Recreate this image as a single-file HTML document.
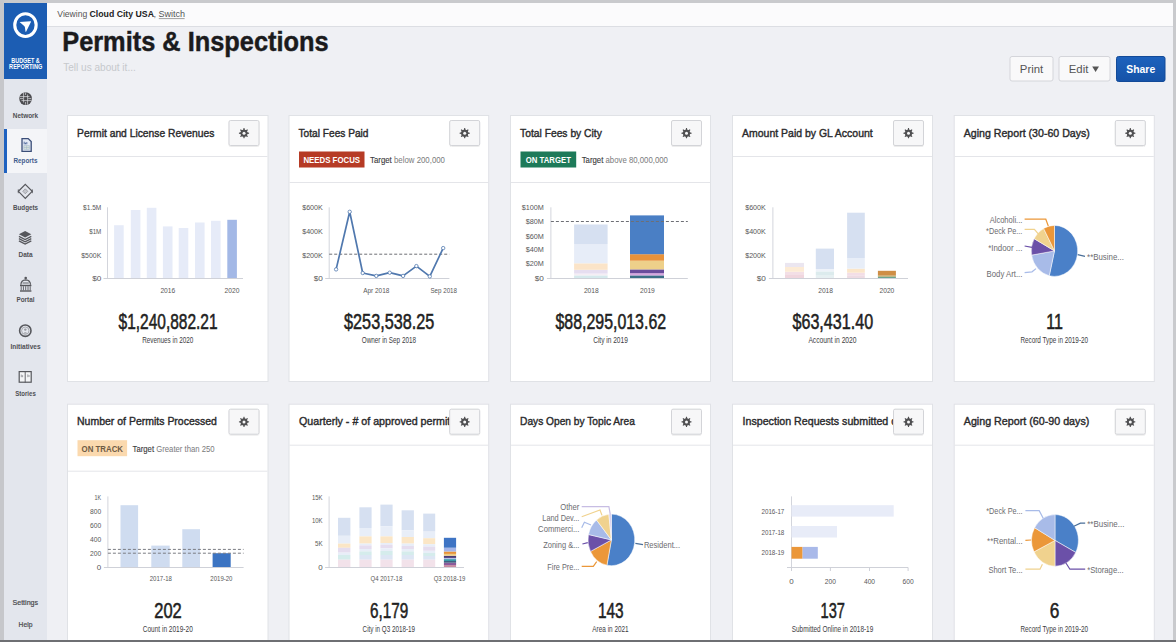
<!DOCTYPE html>
<html lang="en"><head><meta charset="utf-8"><title>Permits &amp; Inspections</title><style>html,body{margin:0;padding:0;background:#eef0f4;overflow:hidden;width:1176px;height:642px}svg text{white-space:pre}</style></head><body>
<svg width="1176" height="642" viewBox="0 0 1176 642" font-family='"Liberation Sans", Arial, sans-serif' style="display:block">
<defs><filter id="sh" x="-5%" y="-5%" width="110%" height="115%"><feDropShadow dx="0" dy="0.6" stdDeviation="0.5" flood-color="#000" flood-opacity="0.12"/></filter><linearGradient id="shg" x1="0" y1="0" x2="0" y2="1"><stop offset="0" stop-color="#1d62bd"/><stop offset="1" stop-color="#1553a8"/></linearGradient></defs>
<rect x="0.00" y="0.00" width="1176.00" height="642.00" fill="#eff0f4" />
<rect x="47.00" y="3.00" width="1129.00" height="24.00" fill="#fbfbfc" />
<line x1="47.00" y1="26.50" x2="1176.00" y2="26.50" stroke="#dcdee3" stroke-width="1" />
<rect x="4.00" y="3.00" width="43.00" height="642.00" fill="#e3e6ed" />
<rect x="4.00" y="129.00" width="43.00" height="44.00" fill="#f4f5f8" />
<rect x="4.00" y="129.00" width="3.00" height="44.00" fill="#1f62c0" />
<rect x="4.00" y="3.00" width="43.00" height="76.00" fill="#1c5db3" />
<ellipse cx="25.45" cy="25.1" rx="10.7" ry="11.4" fill="none" stroke="#fff" stroke-width="3.1"/>
<path d="M19.6,21.9 L30.6,21.2 Q31.2,21.3 30.9,21.9 L26.2,31.6 Q25.7,32.3 25.5,31.5 L24.9,27.2 Q24.6,26.2 23.6,25.4 Z" fill="#fff"/>
<text x="25.50" y="62.50" font-size="6.3" font-weight="700" fill="#fff" text-anchor="middle" textLength="28.50" lengthAdjust="spacingAndGlyphs" >BUDGET &amp;</text>
<text x="25.70" y="69.40" font-size="6.3" font-weight="700" fill="#fff" text-anchor="middle" textLength="33.20" lengthAdjust="spacingAndGlyphs" >REPORTING</text>
<text x="25.50" y="118.20" font-size="7.2" font-weight="700" fill="#4f4f53" text-anchor="middle" textLength="25.38" lengthAdjust="spacingAndGlyphs" >Network</text>
<text x="25.50" y="162.50" font-size="7.2" font-weight="700" fill="#3f5b8c" text-anchor="middle" textLength="23.88" lengthAdjust="spacingAndGlyphs" >Reports</text>
<text x="25.50" y="210.30" font-size="7.2" font-weight="700" fill="#4f4f53" text-anchor="middle" textLength="25.08" lengthAdjust="spacingAndGlyphs" >Budgets</text>
<text x="25.50" y="256.80" font-size="7.2" font-weight="700" fill="#4f4f53" text-anchor="middle" textLength="14.08" lengthAdjust="spacingAndGlyphs" >Data</text>
<text x="25.50" y="302.30" font-size="7.2" font-weight="700" fill="#4f4f53" text-anchor="middle" textLength="18.08" lengthAdjust="spacingAndGlyphs" >Portal</text>
<text x="25.50" y="349.30" font-size="7.2" font-weight="700" fill="#4f4f53" text-anchor="middle" textLength="30.08" lengthAdjust="spacingAndGlyphs" >Initiatives</text>
<text x="25.50" y="396.00" font-size="7.2" font-weight="700" fill="#4f4f53" text-anchor="middle" textLength="20.58" lengthAdjust="spacingAndGlyphs" >Stories</text>
<text x="25.30" y="604.50" font-size="7.4" font-weight="400" fill="#47474b" text-anchor="middle" textLength="25.59" lengthAdjust="spacingAndGlyphs" stroke="#47474b" stroke-width="0.2">Settings</text>
<text x="25.50" y="626.50" font-size="7.4" font-weight="400" fill="#47474b" text-anchor="middle" textLength="13.79" lengthAdjust="spacingAndGlyphs" stroke="#47474b" stroke-width="0.2">Help</text>
<circle cx="25.6" cy="98.6" r="6.4" fill="#4c4c50"/>
<g stroke="#dfe1e6" stroke-width="0.7" fill="none"><path d="M19.5,96.6 H29.5 M21.5,100.6 H31.5 M23.6,92.5 V102.5 M27.6,94.5 V104.7 M19.8,98.6 H23 M28.2,98.6 H31.4 M25.6,92.5 V95 M25.6,102 V104.7"/></g>
<path d="M22,138.6 H28.2 L31.2,141.6 V151.4 H22 Z" fill="#e3e9f4" stroke="#3a4d78" stroke-width="1.3"/>
<path d="M24.2,144.3 v-2.6 M25.5,144.3 v-1.6 M26.8,144.3 v-2.2" stroke="#4a6396" stroke-width="0.9"/>
<path d="M23.8,145.6 h5.6 v3.8 h-5.6 z M26.6,145.6 v3.8 M23.8,147.5 h5.6" fill="#d7e3dc" stroke="#9fb3c8" stroke-width="0.5"/>
<path d="M25.3,184.3 L32.2,191.3 L25.3,198.3 L18.4,191.3 Z" fill="none" stroke="#56575c" stroke-width="1.2"/>
<path d="M18.3,189.4 V193.2 M32.3,189.4 V193.2" stroke="#56575c" stroke-width="0.9"/>
<path d="M25.3,188.8 L27.8,191.3 L25.3,193.8 L22.8,191.3 Z" fill="#c4c6cc" stroke="#8d8e94" stroke-width="0.7"/>
<path d="M25.1,231 L31.3,234.2 L25.1,237.4 L18.9,234.2 Z" fill="#56575c"/>
<path d="M18.9,236.4 L25.1,239.6 L31.3,236.4 M18.9,238.6 L25.1,241.8 L31.3,238.6 M18.9,240.8 L25.1,244 L31.3,240.8" fill="none" stroke="#56575c" stroke-width="1.3"/>
<circle cx="25.7" cy="278" r="1.3" fill="#56575c"/>
<path d="M20.9,284.8 Q21,280.2 25.7,279.9 Q30.4,280.2 30.5,284.8" fill="none" stroke="#56575c" stroke-width="1.2"/>
<path d="M22.6,283 h6.2" stroke="#56575c" stroke-width="0.9"/>
<rect x="20" y="284.8" width="11.4" height="1.4" fill="#56575c"/><rect x="20" y="290.3" width="11.4" height="1.4" fill="#56575c"/>
<path d="M21.2,286.2 v4.1 M23.4,286.2 v4.1 M25.7,286.2 v4.1 M28,286.2 v4.1 M30.2,286.2 v4.1" stroke="#56575c" stroke-width="0.9"/>
<circle cx="25.3" cy="330.7" r="5.7" fill="none" stroke="#56575c" stroke-width="1.6"/>
<circle cx="25.3" cy="330.7" r="3.7" fill="none" stroke="#8e8f95" stroke-width="0.7"/>
<circle cx="25.3" cy="329.6" r="1.2" fill="#9a9ba0"/><path d="M23.3,333.4 Q25.3,330.9 27.3,333.4 Z" fill="#9a9ba0"/>
<rect x="19.2" y="371.6" width="12" height="10.6" fill="#f4f5f7" stroke="#56575c" stroke-width="1.2"/>
<path d="M25.2,372 V382.6" stroke="#56575c" stroke-width="0.9"/>
<path d="M21.3,374.6 v2.6 M22.6,375.2 v2 M27.8,374.4 v2.8 M29,375 v2" stroke="#8a8b90" stroke-width="0.8"/>
<text x="57.34" y="17.00" font-size="9" font-weight="400" fill="#555" text-anchor="start" textLength="29.92" lengthAdjust="spacingAndGlyphs" >Viewing</text>
<text x="89.54" y="17.00" font-size="9" font-weight="700" fill="#222" text-anchor="start" textLength="64.42" lengthAdjust="spacingAndGlyphs" >Cloud City USA</text>
<text transform="translate(153.60,17.00) scale(1.0,1)" font-size="9" font-weight="400" fill="#555" text-anchor="start" >,</text>
<text x="158.44" y="17.00" font-size="9" font-weight="400" fill="#555" text-anchor="start" textLength="26.52" lengthAdjust="spacingAndGlyphs" >Switch</text>
<line x1="158.80" y1="18.60" x2="184.60" y2="18.60" stroke="#777" stroke-width="0.7" />
<text x="62.22" y="50.70" font-size="27" font-weight="700" fill="#1b1b1d" text-anchor="start" textLength="266.46" lengthAdjust="spacingAndGlyphs" stroke="#1b1b1d" stroke-width="0.45">Permits &amp; Inspections</text>
<text x="63.23" y="70.70" font-size="11.8" font-weight="400" fill="#c6c8cc" text-anchor="start" textLength="72.54" lengthAdjust="spacingAndGlyphs" >Tell us about it...</text>
<rect x="1010.0" y="56.5" width="43.0" height="24.5" rx="2" fill="#f9f9fa" stroke="#d4d5da" stroke-width="1"/>
<text x="1031.50" y="72.60" font-size="11.2" font-weight="400" fill="#555" text-anchor="middle" textLength="23.40" lengthAdjust="spacingAndGlyphs" >Print</text>
<rect x="1059.0" y="56.5" width="51.0" height="24.5" rx="2" fill="#f9f9fa" stroke="#d4d5da" stroke-width="1"/>
<text x="1068.75" y="72.60" font-size="11.2" font-weight="400" fill="#555" text-anchor="start" textLength="19.60" lengthAdjust="spacingAndGlyphs" >Edit</text>
<path d="M1092.2,66.6 h6.8 l-3.4,5.4 z" fill="#555"/>
<rect x="1116.5" y="56.5" width="48.5" height="25" rx="2" fill="url(#shg)" stroke="#124a98" stroke-width="1"/>
<text x="1140.75" y="72.60" font-size="11.2" font-weight="700" fill="#fff" text-anchor="middle" textLength="28.90" lengthAdjust="spacingAndGlyphs" >Share</text>
<rect x="67.5" y="115.5" width="200.50" height="266" fill="#fff" stroke="#e0e2e6" stroke-width="1"/>
<line x1="68.00" y1="156.50" x2="267.50" y2="156.50" stroke="#e4e5e9" stroke-width="1" />
<text x="77.06" y="136.50" font-size="11" font-weight="400" fill="#2a2a2c" text-anchor="start" textLength="137.38" lengthAdjust="spacingAndGlyphs" stroke="#2a2a2c" stroke-width="0.4">Permit and License Revenues</text>
<rect x="229.0" y="120.5" width="30" height="25" rx="1.5" fill="#f7f7f8" stroke="#d3d4d8" stroke-width="1" filter="url(#sh)"/>
<path d="M243.17,129.80 L243.54,128.12 L244.46,128.12 L244.83,129.80 L245.82,130.21 L247.27,129.28 L247.92,129.93 L246.99,131.38 L247.40,132.37 L249.08,132.74 L249.08,133.66 L247.40,134.03 L246.99,135.02 L247.92,136.47 L247.27,137.12 L245.82,136.19 L244.83,136.60 L244.46,138.28 L243.54,138.28 L243.17,136.60 L242.18,136.19 L240.73,137.12 L240.08,136.47 L241.01,135.02 L240.60,134.03 L238.92,133.66 L238.92,132.74 L240.60,132.37 L241.01,131.38 L240.08,129.93 L240.73,129.28 L242.18,130.21Z" fill="#505052"/><circle cx="244.00" cy="133.20" r="3.35" fill="#505052"/><circle cx="244.00" cy="133.20" r="1.5" fill="#f7f7f8"/>
<rect x="289.0" y="115.5" width="199.70" height="266" fill="#fff" stroke="#e0e2e6" stroke-width="1"/>
<line x1="289.50" y1="182.50" x2="488.20" y2="182.50" stroke="#e4e5e9" stroke-width="1" />
<text x="298.56" y="136.50" font-size="11" font-weight="400" fill="#2a2a2c" text-anchor="start" textLength="69.98" lengthAdjust="spacingAndGlyphs" stroke="#2a2a2c" stroke-width="0.4">Total Fees Paid</text>
<rect x="449.7" y="120.5" width="30" height="25" rx="1.5" fill="#f7f7f8" stroke="#d3d4d8" stroke-width="1" filter="url(#sh)"/>
<path d="M463.87,129.80 L464.24,128.12 L465.16,128.12 L465.53,129.80 L466.52,130.21 L467.97,129.28 L468.62,129.93 L467.69,131.38 L468.10,132.37 L469.78,132.74 L469.78,133.66 L468.10,134.03 L467.69,135.02 L468.62,136.47 L467.97,137.12 L466.52,136.19 L465.53,136.60 L465.16,138.28 L464.24,138.28 L463.87,136.60 L462.88,136.19 L461.43,137.12 L460.78,136.47 L461.71,135.02 L461.30,134.03 L459.62,133.66 L459.62,132.74 L461.30,132.37 L461.71,131.38 L460.78,129.93 L461.43,129.28 L462.88,130.21Z" fill="#505052"/><circle cx="464.70" cy="133.20" r="3.35" fill="#505052"/><circle cx="464.70" cy="133.20" r="1.5" fill="#f7f7f8"/>
<rect x="299.00" y="151.50" width="65.50" height="16.00" fill="#b63b25" />
<text x="331.75" y="162.90" font-size="9.4" font-weight="700" fill="#fff" text-anchor="middle" textLength="56.65" lengthAdjust="spacingAndGlyphs" >NEEDS FOCUS</text>
<text x="370.00" y="163.00" font-size="9" textLength="75" lengthAdjust="spacingAndGlyphs"><tspan fill="#3a3a3c" stroke="#3a3a3c" stroke-width="0.12">Target</tspan><tspan fill="#7a7a7c"> below 200,000</tspan></text>
<rect x="510.5" y="115.5" width="200.00" height="266" fill="#fff" stroke="#e0e2e6" stroke-width="1"/>
<line x1="511.00" y1="182.50" x2="710.00" y2="182.50" stroke="#e4e5e9" stroke-width="1" />
<text x="520.06" y="136.50" font-size="11" font-weight="400" fill="#2a2a2c" text-anchor="start" textLength="81.78" lengthAdjust="spacingAndGlyphs" stroke="#2a2a2c" stroke-width="0.4">Total Fees by City</text>
<rect x="671.5" y="120.5" width="30" height="25" rx="1.5" fill="#f7f7f8" stroke="#d3d4d8" stroke-width="1" filter="url(#sh)"/>
<path d="M685.67,129.80 L686.04,128.12 L686.96,128.12 L687.33,129.80 L688.32,130.21 L689.77,129.28 L690.42,129.93 L689.49,131.38 L689.90,132.37 L691.58,132.74 L691.58,133.66 L689.90,134.03 L689.49,135.02 L690.42,136.47 L689.77,137.12 L688.32,136.19 L687.33,136.60 L686.96,138.28 L686.04,138.28 L685.67,136.60 L684.68,136.19 L683.23,137.12 L682.58,136.47 L683.51,135.02 L683.10,134.03 L681.42,133.66 L681.42,132.74 L683.10,132.37 L683.51,131.38 L682.58,129.93 L683.23,129.28 L684.68,130.21Z" fill="#505052"/><circle cx="686.50" cy="133.20" r="3.35" fill="#505052"/><circle cx="686.50" cy="133.20" r="1.5" fill="#f7f7f8"/>
<rect x="520.50" y="151.50" width="55.70" height="16.00" fill="#1d7a59" />
<text x="548.35" y="162.90" font-size="9.4" font-weight="700" fill="#fff" text-anchor="middle" textLength="45.05" lengthAdjust="spacingAndGlyphs" >ON TARGET</text>
<text x="581.70" y="163.00" font-size="9" textLength="86.2" lengthAdjust="spacingAndGlyphs"><tspan fill="#3a3a3c" stroke="#3a3a3c" stroke-width="0.12">Target</tspan><tspan fill="#7a7a7c"> above 80,000,000</tspan></text>
<rect x="732.5" y="115.5" width="200.00" height="266" fill="#fff" stroke="#e0e2e6" stroke-width="1"/>
<line x1="733.00" y1="156.50" x2="932.00" y2="156.50" stroke="#e4e5e9" stroke-width="1" />
<text x="742.06" y="136.50" font-size="11" font-weight="400" fill="#2a2a2c" text-anchor="start" textLength="130.68" lengthAdjust="spacingAndGlyphs" stroke="#2a2a2c" stroke-width="0.4">Amount Paid by GL Account</text>
<rect x="893.5" y="120.5" width="30" height="25" rx="1.5" fill="#f7f7f8" stroke="#d3d4d8" stroke-width="1" filter="url(#sh)"/>
<path d="M907.67,129.80 L908.04,128.12 L908.96,128.12 L909.33,129.80 L910.32,130.21 L911.77,129.28 L912.42,129.93 L911.49,131.38 L911.90,132.37 L913.58,132.74 L913.58,133.66 L911.90,134.03 L911.49,135.02 L912.42,136.47 L911.77,137.12 L910.32,136.19 L909.33,136.60 L908.96,138.28 L908.04,138.28 L907.67,136.60 L906.68,136.19 L905.23,137.12 L904.58,136.47 L905.51,135.02 L905.10,134.03 L903.42,133.66 L903.42,132.74 L905.10,132.37 L905.51,131.38 L904.58,129.93 L905.23,129.28 L906.68,130.21Z" fill="#505052"/><circle cx="908.50" cy="133.20" r="3.35" fill="#505052"/><circle cx="908.50" cy="133.20" r="1.5" fill="#f7f7f8"/>
<rect x="954.2" y="115.5" width="200.10" height="266" fill="#fff" stroke="#e0e2e6" stroke-width="1"/>
<line x1="954.70" y1="156.50" x2="1153.80" y2="156.50" stroke="#e4e5e9" stroke-width="1" />
<text x="963.76" y="136.50" font-size="11" font-weight="400" fill="#2a2a2c" text-anchor="start" textLength="126.08" lengthAdjust="spacingAndGlyphs" stroke="#2a2a2c" stroke-width="0.4">Aging Report (30-60 Days)</text>
<rect x="1115.3" y="120.5" width="30" height="25" rx="1.5" fill="#f7f7f8" stroke="#d3d4d8" stroke-width="1" filter="url(#sh)"/>
<path d="M1129.47,129.80 L1129.84,128.12 L1130.76,128.12 L1131.13,129.80 L1132.12,130.21 L1133.57,129.28 L1134.22,129.93 L1133.29,131.38 L1133.70,132.37 L1135.38,132.74 L1135.38,133.66 L1133.70,134.03 L1133.29,135.02 L1134.22,136.47 L1133.57,137.12 L1132.12,136.19 L1131.13,136.60 L1130.76,138.28 L1129.84,138.28 L1129.47,136.60 L1128.48,136.19 L1127.03,137.12 L1126.38,136.47 L1127.31,135.02 L1126.90,134.03 L1125.22,133.66 L1125.22,132.74 L1126.90,132.37 L1127.31,131.38 L1126.38,129.93 L1127.03,129.28 L1128.48,130.21Z" fill="#505052"/><circle cx="1130.30" cy="133.20" r="3.35" fill="#505052"/><circle cx="1130.30" cy="133.20" r="1.5" fill="#f7f7f8"/>
<line x1="107.50" y1="207.30" x2="107.50" y2="278.50" stroke="#d3d5dc" stroke-width="1" />
<line x1="103.50" y1="278.50" x2="243.00" y2="278.50" stroke="#cfd1d8" stroke-width="1" />
<text x="101.32" y="210.30" font-size="8" font-weight="400" fill="#585858" text-anchor="end" textLength="18.24" lengthAdjust="spacingAndGlyphs" >$1.5M</text>
<text x="101.32" y="234.10" font-size="8" font-weight="400" fill="#585858" text-anchor="end" textLength="12.14" lengthAdjust="spacingAndGlyphs" >$1M</text>
<text x="101.32" y="257.50" font-size="8" font-weight="400" fill="#585858" text-anchor="end" textLength="20.04" lengthAdjust="spacingAndGlyphs" >$500K</text>
<text x="101.32" y="281.20" font-size="8" font-weight="400" fill="#585858" text-anchor="end" textLength="9.14" lengthAdjust="spacingAndGlyphs" >$0</text>
<rect x="114.10" y="225.20" width="9.60" height="52.80" fill="#e6ebf8" />
<rect x="130.80" y="210.00" width="9.60" height="68.00" fill="#e6ebf8" />
<rect x="146.80" y="207.80" width="9.60" height="70.20" fill="#e6ebf8" />
<rect x="162.90" y="226.40" width="9.60" height="51.60" fill="#e6ebf8" />
<rect x="178.70" y="228.00" width="9.60" height="50.00" fill="#e6ebf8" />
<rect x="195.00" y="222.50" width="9.60" height="55.50" fill="#e6ebf8" />
<rect x="211.00" y="220.80" width="9.60" height="57.20" fill="#e6ebf8" />
<rect x="227.30" y="219.80" width="9.60" height="58.20" fill="#a3b8e6" />
<text x="167.80" y="292.60" font-size="8" font-weight="400" fill="#585858" text-anchor="middle" textLength="14.84" lengthAdjust="spacingAndGlyphs" >2016</text>
<text x="232.00" y="292.60" font-size="8" font-weight="400" fill="#585858" text-anchor="middle" textLength="14.84" lengthAdjust="spacingAndGlyphs" >2020</text>
<text x="168.05" y="328.90" font-size="21.4" font-weight="400" fill="#1f1f22" text-anchor="middle" textLength="99.01" lengthAdjust="spacingAndGlyphs" stroke="#1f1f22" stroke-width="0.55">$1,240,882.21</text>
<text x="167.75" y="343.20" font-size="8.6" font-weight="400" fill="#3d3d3f" text-anchor="middle" textLength="51.19" lengthAdjust="spacingAndGlyphs" >Revenues in 2020</text>
<line x1="329.20" y1="207.30" x2="329.20" y2="278.50" stroke="#d3d5dc" stroke-width="1" />
<line x1="325.20" y1="278.50" x2="449.40" y2="278.50" stroke="#cfd1d8" stroke-width="1" />
<text x="322.82" y="210.30" font-size="8" font-weight="400" fill="#585858" text-anchor="end" textLength="20.64" lengthAdjust="spacingAndGlyphs" >$600K</text>
<text x="322.82" y="233.80" font-size="8" font-weight="400" fill="#585858" text-anchor="end" textLength="20.64" lengthAdjust="spacingAndGlyphs" >$400K</text>
<text x="322.82" y="257.50" font-size="8" font-weight="400" fill="#585858" text-anchor="end" textLength="20.64" lengthAdjust="spacingAndGlyphs" >$200K</text>
<text x="322.82" y="281.20" font-size="8" font-weight="400" fill="#585858" text-anchor="end" textLength="9.14" lengthAdjust="spacingAndGlyphs" >$0</text>
<line x1="329.20" y1="254.20" x2="449.40" y2="254.20" stroke="#6d6f75" stroke-width="1" stroke-dasharray="3,2"/>
<polyline points="336.10,269.40 349.70,211.80 362.70,273.00 376.30,275.90 389.70,272.70 403.10,275.90 416.40,266.10 429.80,276.40 443.20,248.10" fill="none" stroke="#5078ae" stroke-width="1.7" stroke-linejoin="round"/>
<circle cx="336.1" cy="269.4" r="1.7" fill="#fff" stroke="#5078ae" stroke-width="0.8"/>
<circle cx="349.7" cy="211.8" r="1.7" fill="#fff" stroke="#5078ae" stroke-width="0.8"/>
<circle cx="362.7" cy="273" r="1.7" fill="#fff" stroke="#5078ae" stroke-width="0.8"/>
<circle cx="376.3" cy="275.9" r="1.7" fill="#fff" stroke="#5078ae" stroke-width="0.8"/>
<circle cx="389.7" cy="272.7" r="1.7" fill="#fff" stroke="#5078ae" stroke-width="0.8"/>
<circle cx="403.1" cy="275.9" r="1.7" fill="#fff" stroke="#5078ae" stroke-width="0.8"/>
<circle cx="416.4" cy="266.1" r="1.7" fill="#fff" stroke="#5078ae" stroke-width="0.8"/>
<circle cx="429.8" cy="276.4" r="1.7" fill="#fff" stroke="#5078ae" stroke-width="0.8"/>
<circle cx="443.2" cy="248.1" r="1.7" fill="#fff" stroke="#5078ae" stroke-width="0.8"/>
<text x="376.30" y="292.60" font-size="8" font-weight="400" fill="#585858" text-anchor="middle" textLength="26.14" lengthAdjust="spacingAndGlyphs" >Apr 2018</text>
<text x="443.70" y="292.60" font-size="8" font-weight="400" fill="#585858" text-anchor="middle" textLength="26.64" lengthAdjust="spacingAndGlyphs" >Sep 2018</text>
<text x="389.15" y="328.90" font-size="21.4" font-weight="400" fill="#1f1f22" text-anchor="middle" textLength="90.11" lengthAdjust="spacingAndGlyphs" stroke="#1f1f22" stroke-width="0.55">$253,538.25</text>
<text x="388.85" y="343.20" font-size="8.6" font-weight="400" fill="#3d3d3f" text-anchor="middle" textLength="54.29" lengthAdjust="spacingAndGlyphs" >Owner in Sep 2018</text>
<line x1="550.90" y1="207.30" x2="550.90" y2="278.50" stroke="#d3d5dc" stroke-width="1" />
<line x1="546.90" y1="278.50" x2="687.80" y2="278.50" stroke="#cfd1d8" stroke-width="1" />
<text x="543.82" y="210.30" font-size="8" font-weight="400" fill="#585858" text-anchor="end" textLength="22.14" lengthAdjust="spacingAndGlyphs" >$100M</text>
<text x="543.82" y="224.30" font-size="8" font-weight="400" fill="#585858" text-anchor="end" textLength="18.14" lengthAdjust="spacingAndGlyphs" >$80M</text>
<text x="543.82" y="238.70" font-size="8" font-weight="400" fill="#585858" text-anchor="end" textLength="18.14" lengthAdjust="spacingAndGlyphs" >$60M</text>
<text x="543.82" y="252.30" font-size="8" font-weight="400" fill="#585858" text-anchor="end" textLength="18.14" lengthAdjust="spacingAndGlyphs" >$40M</text>
<text x="543.82" y="266.30" font-size="8" font-weight="400" fill="#585858" text-anchor="end" textLength="18.14" lengthAdjust="spacingAndGlyphs" >$20M</text>
<text x="543.82" y="281.20" font-size="8" font-weight="400" fill="#585858" text-anchor="end" textLength="9.14" lengthAdjust="spacingAndGlyphs" >$0</text>
<rect x="574.10" y="275.40" width="33.50" height="2.60" fill="#d5e9ec" />
<rect x="574.10" y="273.60" width="33.50" height="1.80" fill="#f5eef4" />
<rect x="574.10" y="269.80" width="33.50" height="3.80" fill="#e6def0" />
<rect x="574.10" y="263.30" width="33.50" height="6.50" fill="#fbe4c8" />
<rect x="574.10" y="244.10" width="33.50" height="19.20" fill="#e7edf8" />
<rect x="574.10" y="224.50" width="33.50" height="19.60" fill="#d6e0f1" />
<rect x="630.00" y="275.40" width="34.00" height="2.60" fill="#3b6f87" />
<rect x="630.00" y="273.20" width="34.00" height="2.20" fill="#d7a6e0" />
<rect x="630.00" y="269.40" width="34.00" height="3.80" fill="#6a4c9c" />
<rect x="630.00" y="260.70" width="34.00" height="8.70" fill="#eed08a" />
<rect x="630.00" y="254.20" width="34.00" height="6.50" fill="#e8923a" />
<rect x="630.00" y="215.40" width="34.00" height="38.80" fill="#4a7fc5" />
<line x1="550.90" y1="221.50" x2="687.80" y2="221.50" stroke="#6d6f75" stroke-width="1" stroke-dasharray="3,2"/>
<text x="591.30" y="292.60" font-size="8" font-weight="400" fill="#585858" text-anchor="middle" textLength="14.84" lengthAdjust="spacingAndGlyphs" >2018</text>
<text x="647.40" y="292.60" font-size="8" font-weight="400" fill="#585858" text-anchor="middle" textLength="14.84" lengthAdjust="spacingAndGlyphs" >2019</text>
<text x="610.80" y="328.90" font-size="21.4" font-weight="400" fill="#1f1f22" text-anchor="middle" textLength="110.61" lengthAdjust="spacingAndGlyphs" stroke="#1f1f22" stroke-width="0.55">$88,295,013.62</text>
<text x="610.50" y="343.20" font-size="8.6" font-weight="400" fill="#3d3d3f" text-anchor="middle" textLength="34.69" lengthAdjust="spacingAndGlyphs" >City in 2019</text>
<line x1="772.90" y1="207.30" x2="772.90" y2="278.50" stroke="#d3d5dc" stroke-width="1" />
<line x1="768.90" y1="278.50" x2="908.00" y2="278.50" stroke="#cfd1d8" stroke-width="1" />
<text x="765.82" y="210.30" font-size="8" font-weight="400" fill="#585858" text-anchor="end" textLength="20.64" lengthAdjust="spacingAndGlyphs" >$600K</text>
<text x="765.82" y="233.80" font-size="8" font-weight="400" fill="#585858" text-anchor="end" textLength="20.64" lengthAdjust="spacingAndGlyphs" >$400K</text>
<text x="765.82" y="257.50" font-size="8" font-weight="400" fill="#585858" text-anchor="end" textLength="20.64" lengthAdjust="spacingAndGlyphs" >$200K</text>
<text x="765.82" y="281.20" font-size="8" font-weight="400" fill="#585858" text-anchor="end" textLength="9.14" lengthAdjust="spacingAndGlyphs" >$0</text>
<rect x="785.00" y="275.00" width="19.00" height="3.00" fill="#f0d6de" />
<rect x="785.00" y="271.80" width="19.00" height="3.20" fill="#f3dfe6" />
<rect x="785.00" y="267.00" width="19.00" height="4.80" fill="#fcebd6" />
<rect x="785.00" y="262.90" width="19.00" height="4.10" fill="#ebe6f0" />
<rect x="815.80" y="275.00" width="18.20" height="3.00" fill="#e6f0f2" />
<rect x="815.80" y="271.40" width="18.20" height="3.60" fill="#dcebed" />
<rect x="815.80" y="269.00" width="18.20" height="2.40" fill="#eef2f9" />
<rect x="815.80" y="248.60" width="18.20" height="20.40" fill="#d6e0f1" />
<rect x="847.10" y="275.30" width="17.70" height="2.70" fill="#eedbe3" />
<rect x="847.10" y="272.70" width="17.70" height="2.60" fill="#f3dee6" />
<rect x="847.10" y="268.60" width="17.70" height="4.10" fill="#fbe6ca" />
<rect x="847.10" y="258.00" width="17.70" height="10.60" fill="#e8eef8" />
<rect x="847.10" y="212.70" width="17.70" height="45.30" fill="#d6e0f1" />
<rect x="877.90" y="276.60" width="18.00" height="1.40" fill="#6aa58f" />
<rect x="877.90" y="275.40" width="18.00" height="1.20" fill="#b9a05a" />
<rect x="877.90" y="270.80" width="18.00" height="4.60" fill="#cf8e45" />
<text x="825.60" y="292.60" font-size="8" font-weight="400" fill="#585858" text-anchor="middle" textLength="14.84" lengthAdjust="spacingAndGlyphs" >2018</text>
<text x="886.90" y="292.60" font-size="8" font-weight="400" fill="#585858" text-anchor="middle" textLength="14.84" lengthAdjust="spacingAndGlyphs" >2020</text>
<text x="832.80" y="328.90" font-size="21.4" font-weight="400" fill="#1f1f22" text-anchor="middle" textLength="80.61" lengthAdjust="spacingAndGlyphs" stroke="#1f1f22" stroke-width="0.55">$63,431.40</text>
<text x="832.50" y="343.20" font-size="8.6" font-weight="400" fill="#3d3d3f" text-anchor="middle" textLength="48.19" lengthAdjust="spacingAndGlyphs" >Account in 2020</text>
<path d="M1054.50,250.90 L1054.50,225.40 A23.2,25.5 0 1 1 1049.28,275.75 Z" fill="#4a80c8" stroke="#fff" stroke-width="0.5"/><path d="M1054.50,250.90 L1049.28,275.75 A23.2,25.5 0 0 1 1031.62,255.11 Z" fill="#a8bbe8" stroke="#fff" stroke-width="0.5"/><path d="M1054.50,250.90 L1031.62,255.11 A23.2,25.5 0 0 1 1034.13,238.69 Z" fill="#6b50a8" stroke="#fff" stroke-width="0.5"/><path d="M1054.50,250.90 L1034.13,238.69 A23.2,25.5 0 0 1 1043.61,228.38 Z" fill="#f0d28e" stroke="#fff" stroke-width="0.5"/><path d="M1054.50,250.90 L1043.61,228.38 A23.2,25.5 0 0 1 1054.50,225.40 Z" fill="#eb9739" stroke="#fff" stroke-width="0.5"/>
<polyline points="1024.60,219.20 1045.80,219.20 1048.30,226.00" fill="none" stroke="#eb9739" stroke-width="1.2" />
<polyline points="1024.60,229.30 1034.40,229.30 1038.50,234.20" fill="none" stroke="#f0d28e" stroke-width="1.2" />
<polyline points="1024.60,246.00 1032.00,247.30" fill="none" stroke="#6b50a8" stroke-width="1.2" />
<polyline points="1024.60,272.70 1032.00,271.80 1036.00,268.60" fill="none" stroke="#a8bbe8" stroke-width="1.2" />
<polyline points="1077.70,254.70 1085.00,256.30" fill="none" stroke="#4a6f99" stroke-width="1.2" />
<text x="1022.39" y="223.00" font-size="9.8" font-weight="400" fill="#6c6c70" text-anchor="end" textLength="32.68" lengthAdjust="spacingAndGlyphs" >Alcoholi...</text>
<text x="1022.39" y="233.70" font-size="9.8" font-weight="400" fill="#6c6c70" text-anchor="end" textLength="36.28" lengthAdjust="spacingAndGlyphs" >*Deck Pe...</text>
<text x="1022.39" y="250.50" font-size="9.8" font-weight="400" fill="#6c6c70" text-anchor="end" textLength="34.18" lengthAdjust="spacingAndGlyphs" >*Indoor ...</text>
<text x="1022.39" y="276.70" font-size="9.8" font-weight="400" fill="#6c6c70" text-anchor="end" textLength="35.78" lengthAdjust="spacingAndGlyphs" >Body Art...</text>
<text x="1087.11" y="260.30" font-size="9.8" font-weight="400" fill="#6c6c70" text-anchor="start" textLength="36.78" lengthAdjust="spacingAndGlyphs" >**Busine...</text>
<text x="1054.55" y="328.90" font-size="21.4" font-weight="400" fill="#1f1f22" text-anchor="middle" textLength="16.61" lengthAdjust="spacingAndGlyphs" stroke="#1f1f22" stroke-width="0.55">11</text>
<text x="1054.25" y="343.20" font-size="8.6" font-weight="400" fill="#3d3d3f" text-anchor="middle" textLength="67.69" lengthAdjust="spacingAndGlyphs" >Record Type in 2019-20</text>
<rect x="67.5" y="404.2" width="200.50" height="266" fill="#fff" stroke="#e0e2e6" stroke-width="1"/>
<line x1="68.00" y1="471.20" x2="267.50" y2="471.20" stroke="#e4e5e9" stroke-width="1" />
<text x="77.06" y="425.20" font-size="11" font-weight="400" fill="#2a2a2c" text-anchor="start" textLength="139.88" lengthAdjust="spacingAndGlyphs" stroke="#2a2a2c" stroke-width="0.4">Number of Permits Processed</text>
<rect x="229.0" y="409.2" width="30" height="25" rx="1.5" fill="#f7f7f8" stroke="#d3d4d8" stroke-width="1" filter="url(#sh)"/>
<path d="M243.17,418.50 L243.54,416.82 L244.46,416.82 L244.83,418.50 L245.82,418.91 L247.27,417.98 L247.92,418.63 L246.99,420.08 L247.40,421.07 L249.08,421.44 L249.08,422.36 L247.40,422.73 L246.99,423.72 L247.92,425.17 L247.27,425.82 L245.82,424.89 L244.83,425.30 L244.46,426.98 L243.54,426.98 L243.17,425.30 L242.18,424.89 L240.73,425.82 L240.08,425.17 L241.01,423.72 L240.60,422.73 L238.92,422.36 L238.92,421.44 L240.60,421.07 L241.01,420.08 L240.08,418.63 L240.73,417.98 L242.18,418.91Z" fill="#505052"/><circle cx="244.00" cy="421.90" r="3.35" fill="#505052"/><circle cx="244.00" cy="421.90" r="1.5" fill="#f7f7f8"/>
<rect x="77.50" y="440.20" width="49.60" height="16.00" fill="#fbd9ae" />
<text x="102.30" y="451.60" font-size="9.4" font-weight="700" fill="#6e5b45" text-anchor="middle" textLength="41.45" lengthAdjust="spacingAndGlyphs" >ON TRACK</text>
<text x="132.60" y="451.70" font-size="9" textLength="82" lengthAdjust="spacingAndGlyphs"><tspan fill="#3a3a3c" stroke="#3a3a3c" stroke-width="0.12">Target</tspan><tspan fill="#7a7a7c"> Greater than 250</tspan></text>
<rect x="289.0" y="404.2" width="199.70" height="266" fill="#fff" stroke="#e0e2e6" stroke-width="1"/>
<line x1="289.50" y1="445.20" x2="488.20" y2="445.20" stroke="#e4e5e9" stroke-width="1" />
<clipPath id="clip11"><rect x="288.5" y="403.7" width="162.7" height="40"/></clipPath>
<g clip-path="url(#clip11)"><text transform="translate(299.00,425.20) scale(0.972,1)" font-size="11" font-weight="400" fill="#2a2a2c" text-anchor="start" stroke="#2a2a2c" stroke-width="0.4">Quarterly - # of approved permits by type</text></g>
<rect x="449.7" y="409.2" width="30" height="25" rx="1.5" fill="#f7f7f8" stroke="#d3d4d8" stroke-width="1" filter="url(#sh)"/>
<path d="M463.87,418.50 L464.24,416.82 L465.16,416.82 L465.53,418.50 L466.52,418.91 L467.97,417.98 L468.62,418.63 L467.69,420.08 L468.10,421.07 L469.78,421.44 L469.78,422.36 L468.10,422.73 L467.69,423.72 L468.62,425.17 L467.97,425.82 L466.52,424.89 L465.53,425.30 L465.16,426.98 L464.24,426.98 L463.87,425.30 L462.88,424.89 L461.43,425.82 L460.78,425.17 L461.71,423.72 L461.30,422.73 L459.62,422.36 L459.62,421.44 L461.30,421.07 L461.71,420.08 L460.78,418.63 L461.43,417.98 L462.88,418.91Z" fill="#505052"/><circle cx="464.70" cy="421.90" r="3.35" fill="#505052"/><circle cx="464.70" cy="421.90" r="1.5" fill="#f7f7f8"/>
<rect x="510.5" y="404.2" width="200.00" height="266" fill="#fff" stroke="#e0e2e6" stroke-width="1"/>
<line x1="511.00" y1="445.20" x2="710.00" y2="445.20" stroke="#e4e5e9" stroke-width="1" />
<text x="520.06" y="425.20" font-size="11" font-weight="400" fill="#2a2a2c" text-anchor="start" textLength="114.78" lengthAdjust="spacingAndGlyphs" stroke="#2a2a2c" stroke-width="0.4">Days Open by Topic Area</text>
<rect x="671.5" y="409.2" width="30" height="25" rx="1.5" fill="#f7f7f8" stroke="#d3d4d8" stroke-width="1" filter="url(#sh)"/>
<path d="M685.67,418.50 L686.04,416.82 L686.96,416.82 L687.33,418.50 L688.32,418.91 L689.77,417.98 L690.42,418.63 L689.49,420.08 L689.90,421.07 L691.58,421.44 L691.58,422.36 L689.90,422.73 L689.49,423.72 L690.42,425.17 L689.77,425.82 L688.32,424.89 L687.33,425.30 L686.96,426.98 L686.04,426.98 L685.67,425.30 L684.68,424.89 L683.23,425.82 L682.58,425.17 L683.51,423.72 L683.10,422.73 L681.42,422.36 L681.42,421.44 L683.10,421.07 L683.51,420.08 L682.58,418.63 L683.23,417.98 L684.68,418.91Z" fill="#505052"/><circle cx="686.50" cy="421.90" r="3.35" fill="#505052"/><circle cx="686.50" cy="421.90" r="1.5" fill="#f7f7f8"/>
<rect x="732.5" y="404.2" width="200.00" height="266" fill="#fff" stroke="#e0e2e6" stroke-width="1"/>
<line x1="733.00" y1="445.20" x2="932.00" y2="445.20" stroke="#e4e5e9" stroke-width="1" />
<clipPath id="clip31"><rect x="732" y="403.7" width="163" height="40"/></clipPath>
<g clip-path="url(#clip31)"><text transform="translate(742.50,425.20) scale(0.97,1)" font-size="11" font-weight="400" fill="#2a2a2c" text-anchor="start" stroke="#2a2a2c" stroke-width="0.4">Inspection Requests submitted online</text></g>
<rect x="893.5" y="409.2" width="30" height="25" rx="1.5" fill="#f7f7f8" stroke="#d3d4d8" stroke-width="1" filter="url(#sh)"/>
<path d="M907.67,418.50 L908.04,416.82 L908.96,416.82 L909.33,418.50 L910.32,418.91 L911.77,417.98 L912.42,418.63 L911.49,420.08 L911.90,421.07 L913.58,421.44 L913.58,422.36 L911.90,422.73 L911.49,423.72 L912.42,425.17 L911.77,425.82 L910.32,424.89 L909.33,425.30 L908.96,426.98 L908.04,426.98 L907.67,425.30 L906.68,424.89 L905.23,425.82 L904.58,425.17 L905.51,423.72 L905.10,422.73 L903.42,422.36 L903.42,421.44 L905.10,421.07 L905.51,420.08 L904.58,418.63 L905.23,417.98 L906.68,418.91Z" fill="#505052"/><circle cx="908.50" cy="421.90" r="3.35" fill="#505052"/><circle cx="908.50" cy="421.90" r="1.5" fill="#f7f7f8"/>
<rect x="954.2" y="404.2" width="200.10" height="266" fill="#fff" stroke="#e0e2e6" stroke-width="1"/>
<line x1="954.70" y1="445.20" x2="1153.80" y2="445.20" stroke="#e4e5e9" stroke-width="1" />
<text x="963.76" y="425.20" font-size="11" font-weight="400" fill="#2a2a2c" text-anchor="start" textLength="125.58" lengthAdjust="spacingAndGlyphs" stroke="#2a2a2c" stroke-width="0.4">Aging Report (60-90 days)</text>
<rect x="1115.3" y="409.2" width="30" height="25" rx="1.5" fill="#f7f7f8" stroke="#d3d4d8" stroke-width="1" filter="url(#sh)"/>
<path d="M1129.47,418.50 L1129.84,416.82 L1130.76,416.82 L1131.13,418.50 L1132.12,418.91 L1133.57,417.98 L1134.22,418.63 L1133.29,420.08 L1133.70,421.07 L1135.38,421.44 L1135.38,422.36 L1133.70,422.73 L1133.29,423.72 L1134.22,425.17 L1133.57,425.82 L1132.12,424.89 L1131.13,425.30 L1130.76,426.98 L1129.84,426.98 L1129.47,425.30 L1128.48,424.89 L1127.03,425.82 L1126.38,425.17 L1127.31,423.72 L1126.90,422.73 L1125.22,422.36 L1125.22,421.44 L1126.90,421.07 L1127.31,420.08 L1126.38,418.63 L1127.03,417.98 L1128.48,418.91Z" fill="#505052"/><circle cx="1130.30" cy="421.90" r="3.35" fill="#505052"/><circle cx="1130.30" cy="421.90" r="1.5" fill="#f7f7f8"/>
<line x1="107.90" y1="496.40" x2="107.90" y2="567.50" stroke="#d3d5dc" stroke-width="1" />
<line x1="103.90" y1="567.50" x2="243.60" y2="567.50" stroke="#cfd1d8" stroke-width="1" />
<text x="101.12" y="499.80" font-size="8" font-weight="400" fill="#585858" text-anchor="end" textLength="6.64" lengthAdjust="spacingAndGlyphs" >1K</text>
<text x="101.12" y="513.80" font-size="8" font-weight="400" fill="#585858" text-anchor="end" textLength="11.14" lengthAdjust="spacingAndGlyphs" >800</text>
<text x="101.12" y="527.80" font-size="8" font-weight="400" fill="#585858" text-anchor="end" textLength="11.14" lengthAdjust="spacingAndGlyphs" >600</text>
<text x="101.12" y="541.80" font-size="8" font-weight="400" fill="#585858" text-anchor="end" textLength="11.14" lengthAdjust="spacingAndGlyphs" >400</text>
<text x="101.12" y="555.80" font-size="8" font-weight="400" fill="#585858" text-anchor="end" textLength="11.14" lengthAdjust="spacingAndGlyphs" >200</text>
<text x="101.12" y="569.80" font-size="8" font-weight="400" fill="#585858" text-anchor="end" textLength="4.44" lengthAdjust="spacingAndGlyphs" >0</text>
<rect x="120.50" y="505.20" width="17.60" height="61.80" fill="#cfdcf0" />
<rect x="151.30" y="545.60" width="18.40" height="21.40" fill="#cfdcf0" />
<rect x="182.30" y="529.20" width="17.70" height="37.80" fill="#cfdcf0" />
<rect x="212.60" y="553.20" width="18.10" height="13.80" fill="#3c74c2" />
<line x1="107.90" y1="549.40" x2="243.60" y2="549.40" stroke="#7a7c82" stroke-width="1" stroke-dasharray="3,2"/>
<line x1="107.90" y1="553.20" x2="243.60" y2="553.20" stroke="#7a7c82" stroke-width="1" stroke-dasharray="3,2"/>
<text x="160.80" y="581.40" font-size="8" font-weight="400" fill="#585858" text-anchor="middle" textLength="22.14" lengthAdjust="spacingAndGlyphs" >2017-18</text>
<text x="221.40" y="581.40" font-size="8" font-weight="400" fill="#585858" text-anchor="middle" textLength="22.14" lengthAdjust="spacingAndGlyphs" >2019-20</text>
<text x="168.05" y="617.60" font-size="21.4" font-weight="400" fill="#1f1f22" text-anchor="middle" textLength="27.51" lengthAdjust="spacingAndGlyphs" stroke="#1f1f22" stroke-width="0.55">202</text>
<text x="167.75" y="631.90" font-size="8.6" font-weight="400" fill="#3d3d3f" text-anchor="middle" textLength="50.09" lengthAdjust="spacingAndGlyphs" >Count in 2019-20</text>
<line x1="329.10" y1="496.40" x2="329.10" y2="567.50" stroke="#d3d5dc" stroke-width="1" />
<line x1="325.10" y1="567.50" x2="464.00" y2="567.50" stroke="#cfd1d8" stroke-width="1" />
<text x="322.62" y="499.80" font-size="8" font-weight="400" fill="#585858" text-anchor="end" textLength="10.64" lengthAdjust="spacingAndGlyphs" >15K</text>
<text x="322.62" y="522.70" font-size="8" font-weight="400" fill="#585858" text-anchor="end" textLength="10.64" lengthAdjust="spacingAndGlyphs" >10K</text>
<text x="322.62" y="546.40" font-size="8" font-weight="400" fill="#585858" text-anchor="end" textLength="7.64" lengthAdjust="spacingAndGlyphs" >5K</text>
<text x="322.62" y="569.80" font-size="8" font-weight="400" fill="#585858" text-anchor="end" textLength="4.44" lengthAdjust="spacingAndGlyphs" >0</text>
<rect x="338.00" y="517.80" width="12.40" height="18.00" fill="#d6e0f1" />
<rect x="338.00" y="535.80" width="12.40" height="7.80" fill="#e8eef8" />
<rect x="338.00" y="543.60" width="12.40" height="4.20" fill="#fbe6c6" />
<rect x="338.00" y="547.80" width="12.40" height="4.80" fill="#e5ddef" />
<rect x="338.00" y="552.60" width="12.40" height="2.40" fill="#e8eef8" />
<rect x="338.00" y="555.00" width="12.40" height="4.70" fill="#d5ecec" />
<rect x="338.00" y="559.70" width="12.40" height="7.30" fill="#f2e2ea" />
<rect x="359.40" y="507.30" width="12.20" height="20.70" fill="#d6e0f1" />
<rect x="359.40" y="528.00" width="12.20" height="8.40" fill="#e8eef8" />
<rect x="359.40" y="536.40" width="12.20" height="7.20" fill="#fbe6c6" />
<rect x="359.40" y="543.60" width="12.20" height="1.80" fill="#e8eef8" />
<rect x="359.40" y="545.40" width="12.20" height="3.60" fill="#e5ddef" />
<rect x="359.40" y="549.00" width="12.20" height="2.40" fill="#e8eef8" />
<rect x="359.40" y="551.40" width="12.20" height="3.60" fill="#d5ecec" />
<rect x="359.40" y="555.00" width="12.20" height="4.70" fill="#dde6f4" />
<rect x="359.40" y="559.70" width="12.20" height="7.30" fill="#f2e2ea" />
<rect x="380.40" y="504.60" width="12.20" height="21.60" fill="#d6e0f1" />
<rect x="380.40" y="526.20" width="12.20" height="10.20" fill="#e8eef8" />
<rect x="380.40" y="536.40" width="12.20" height="6.60" fill="#fbe6c6" />
<rect x="380.40" y="543.00" width="12.20" height="1.80" fill="#e8eef8" />
<rect x="380.40" y="544.80" width="12.20" height="3.60" fill="#e5ddef" />
<rect x="380.40" y="548.40" width="12.20" height="2.60" fill="#e8eef8" />
<rect x="380.40" y="551.00" width="12.20" height="4.00" fill="#d5ecec" />
<rect x="380.40" y="555.00" width="12.20" height="4.70" fill="#dde6f4" />
<rect x="380.40" y="559.70" width="12.20" height="7.30" fill="#f2e2ea" />
<rect x="401.60" y="510.30" width="12.30" height="20.10" fill="#d6e0f1" />
<rect x="401.60" y="530.40" width="12.30" height="6.60" fill="#e8eef8" />
<rect x="401.60" y="537.00" width="12.30" height="6.60" fill="#fbe6c6" />
<rect x="401.60" y="543.60" width="12.30" height="2.40" fill="#e8eef8" />
<rect x="401.60" y="546.00" width="12.30" height="3.00" fill="#e5ddef" />
<rect x="401.60" y="549.00" width="12.30" height="2.40" fill="#e8eef8" />
<rect x="401.60" y="551.40" width="12.30" height="3.60" fill="#d5ecec" />
<rect x="401.60" y="555.00" width="12.30" height="4.70" fill="#dde6f4" />
<rect x="401.60" y="559.70" width="12.30" height="7.30" fill="#f2e2ea" />
<rect x="423.20" y="513.60" width="12.00" height="18.00" fill="#d6e0f1" />
<rect x="423.20" y="531.60" width="12.00" height="6.60" fill="#e8eef8" />
<rect x="423.20" y="538.20" width="12.00" height="6.00" fill="#fbe6c6" />
<rect x="423.20" y="544.20" width="12.00" height="2.40" fill="#e8eef8" />
<rect x="423.20" y="546.60" width="12.00" height="4.20" fill="#e5ddef" />
<rect x="423.20" y="550.80" width="12.00" height="2.20" fill="#e8eef8" />
<rect x="423.20" y="553.00" width="12.00" height="3.00" fill="#d5ecec" />
<rect x="423.20" y="556.00" width="12.00" height="3.70" fill="#dde6f4" />
<rect x="423.20" y="559.70" width="12.00" height="7.30" fill="#f2e2ea" />
<rect x="443.90" y="565.10" width="12.20" height="1.90" fill="#c88aa0" />
<rect x="443.90" y="562.70" width="12.20" height="2.40" fill="#8a5a9a" />
<rect x="443.90" y="561.00" width="12.20" height="1.70" fill="#3f5f80" />
<rect x="443.90" y="559.10" width="12.20" height="1.90" fill="#3a9aa8" />
<rect x="443.90" y="557.90" width="12.20" height="1.20" fill="#b5c0ea" />
<rect x="443.90" y="555.80" width="12.20" height="2.10" fill="#4b3a78" />
<rect x="443.90" y="553.90" width="12.20" height="1.90" fill="#eccb84" />
<rect x="443.90" y="551.50" width="12.20" height="2.40" fill="#e89338" />
<rect x="443.90" y="547.70" width="12.20" height="3.80" fill="#a5b5e8" />
<rect x="443.90" y="537.80" width="12.20" height="9.90" fill="#3e74c4" />
<text x="386.40" y="581.40" font-size="8" font-weight="400" fill="#585858" text-anchor="middle" textLength="31.64" lengthAdjust="spacingAndGlyphs" >Q4 2017-18</text>
<text x="449.50" y="581.40" font-size="8" font-weight="400" fill="#585858" text-anchor="middle" textLength="31.64" lengthAdjust="spacingAndGlyphs" >Q3 2018-19</text>
<text x="389.15" y="617.60" font-size="21.4" font-weight="400" fill="#1f1f22" text-anchor="middle" textLength="38.21" lengthAdjust="spacingAndGlyphs" stroke="#1f1f22" stroke-width="0.55">6,179</text>
<text x="388.85" y="631.90" font-size="8.6" font-weight="400" fill="#3d3d3f" text-anchor="middle" textLength="52.49" lengthAdjust="spacingAndGlyphs" >City in Q3 2018-19</text>
<path d="M611.40,539.90 L611.40,514.10 A23.4,25.8 0 1 1 606.94,565.23 Z" fill="#4a80c8" stroke="#fff" stroke-width="0.5"/><path d="M611.40,539.90 L606.94,565.23 A23.4,25.8 0 0 1 590.48,551.45 Z" fill="#eb9739" stroke="#fff" stroke-width="0.5"/><path d="M611.40,539.90 L590.48,551.45 A23.4,25.8 0 0 1 588.51,534.54 Z" fill="#6b50a8" stroke="#fff" stroke-width="0.5"/><path d="M611.40,539.90 L588.51,534.54 A23.4,25.8 0 0 1 596.52,519.99 Z" fill="#a8bbe8" stroke="#fff" stroke-width="0.5"/><path d="M611.40,539.90 L596.52,519.99 A23.4,25.8 0 0 1 608.87,514.25 Z" fill="#f0d28e" stroke="#fff" stroke-width="0.5"/><path d="M611.40,539.90 L608.87,514.25 A23.4,25.8 0 0 1 611.40,514.10 Z" fill="#d9d0ec" stroke="#fff" stroke-width="0.5"/>
<polyline points="581.70,506.60 608.90,506.60 610.30,514.70" fill="none" stroke="#c7bde3" stroke-width="1.2" />
<polyline points="581.70,516.80 600.00,510.00 602.00,515.40" fill="none" stroke="#f0d28e" stroke-width="1.2" />
<polyline points="581.70,527.70 584.40,522.20 591.00,525.00" fill="none" stroke="#a8bbe8" stroke-width="1.2" />
<polyline points="582.40,544.00 587.80,542.60" fill="none" stroke="#6b50a8" stroke-width="1.2" />
<polyline points="581.70,566.40 593.30,566.40 596.70,561.70" fill="none" stroke="#eb9739" stroke-width="1.2" />
<polyline points="635.40,543.30 643.00,544.70" fill="none" stroke="#4a6f99" stroke-width="1.2" />
<text x="579.39" y="510.30" font-size="9.8" font-weight="400" fill="#6c6c70" text-anchor="end" textLength="19.18" lengthAdjust="spacingAndGlyphs" >Other</text>
<text x="579.39" y="520.70" font-size="9.8" font-weight="400" fill="#6c6c70" text-anchor="end" textLength="37.08" lengthAdjust="spacingAndGlyphs" >Land Dev...</text>
<text x="579.39" y="531.60" font-size="9.8" font-weight="400" fill="#6c6c70" text-anchor="end" textLength="41.28" lengthAdjust="spacingAndGlyphs" >Commerci...</text>
<text x="579.39" y="547.60" font-size="9.8" font-weight="400" fill="#6c6c70" text-anchor="end" textLength="36.18" lengthAdjust="spacingAndGlyphs" >Zoning &amp;...</text>
<text x="579.39" y="569.70" font-size="9.8" font-weight="400" fill="#6c6c70" text-anchor="end" textLength="32.08" lengthAdjust="spacingAndGlyphs" >Fire Pre...</text>
<text x="643.91" y="547.60" font-size="9.8" font-weight="400" fill="#6c6c70" text-anchor="start" textLength="36.18" lengthAdjust="spacingAndGlyphs" >Resident...</text>
<text x="610.80" y="617.60" font-size="21.4" font-weight="400" fill="#1f1f22" text-anchor="middle" textLength="25.71" lengthAdjust="spacingAndGlyphs" stroke="#1f1f22" stroke-width="0.55">143</text>
<text x="610.50" y="631.90" font-size="8.6" font-weight="400" fill="#3d3d3f" text-anchor="middle" textLength="36.39" lengthAdjust="spacingAndGlyphs" >Area in 2021</text>
<line x1="791.50" y1="496.40" x2="791.50" y2="567.00" stroke="#d3d5dc" stroke-width="1" />
<line x1="787.00" y1="567.50" x2="908.10" y2="567.50" stroke="#cfd1d8" stroke-width="1" />
<line x1="791.50" y1="567.50" x2="791.50" y2="571.00" stroke="#cfd1d8" stroke-width="1" />
<text x="791.50" y="584.20" font-size="8" font-weight="400" fill="#585858" text-anchor="middle" textLength="4.44" lengthAdjust="spacingAndGlyphs" >0</text>
<line x1="830.40" y1="567.50" x2="830.40" y2="571.00" stroke="#cfd1d8" stroke-width="1" />
<text x="830.40" y="584.20" font-size="8" font-weight="400" fill="#585858" text-anchor="middle" textLength="11.14" lengthAdjust="spacingAndGlyphs" >200</text>
<line x1="869.50" y1="567.50" x2="869.50" y2="571.00" stroke="#cfd1d8" stroke-width="1" />
<text x="869.50" y="584.20" font-size="8" font-weight="400" fill="#585858" text-anchor="middle" textLength="11.14" lengthAdjust="spacingAndGlyphs" >400</text>
<line x1="908.10" y1="567.50" x2="908.10" y2="571.00" stroke="#cfd1d8" stroke-width="1" />
<text x="908.10" y="584.20" font-size="8" font-weight="400" fill="#585858" text-anchor="middle" textLength="11.14" lengthAdjust="spacingAndGlyphs" >600</text>
<rect x="791.50" y="505.20" width="102.20" height="11.40" fill="#e8ecf8" />
<rect x="791.50" y="526.00" width="45.50" height="11.50" fill="#e8ecf8" />
<rect x="791.50" y="546.90" width="11.10" height="11.80" fill="#eb9739" />
<rect x="802.60" y="546.90" width="15.20" height="11.80" fill="#a9b9e9" />
<text x="784.32" y="513.80" font-size="8" font-weight="400" fill="#585858" text-anchor="end" textLength="22.84" lengthAdjust="spacingAndGlyphs" >2016-17</text>
<text x="784.32" y="534.50" font-size="8" font-weight="400" fill="#585858" text-anchor="end" textLength="22.84" lengthAdjust="spacingAndGlyphs" >2017-18</text>
<text x="784.32" y="555.40" font-size="8" font-weight="400" fill="#585858" text-anchor="end" textLength="22.84" lengthAdjust="spacingAndGlyphs" >2018-19</text>
<text x="832.80" y="617.60" font-size="21.4" font-weight="400" fill="#1f1f22" text-anchor="middle" textLength="24.41" lengthAdjust="spacingAndGlyphs" stroke="#1f1f22" stroke-width="0.55">137</text>
<text x="832.50" y="631.90" font-size="8.6" font-weight="400" fill="#3d3d3f" text-anchor="middle" textLength="81.59" lengthAdjust="spacingAndGlyphs" >Submitted Online in 2018-19</text>
<path d="M1055.00,540.40 L1055.00,514.60 A23.4,25.8 0 0 1 1075.72,552.39 Z" fill="#4a80c8" stroke="#fff" stroke-width="0.5"/><path d="M1055.00,540.40 L1075.72,552.39 A23.4,25.8 0 0 1 1055.00,566.20 Z" fill="#6b50a8" stroke="#fff" stroke-width="0.5"/><path d="M1055.00,540.40 L1055.00,566.20 A23.4,25.8 0 0 1 1034.02,551.83 Z" fill="#f0d28e" stroke="#fff" stroke-width="0.5"/><path d="M1055.00,540.40 L1034.02,551.83 A23.4,25.8 0 0 1 1034.61,527.73 Z" fill="#eb9739" stroke="#fff" stroke-width="0.5"/><path d="M1055.00,540.40 L1034.61,527.73 A23.4,25.8 0 0 1 1055.00,514.60 Z" fill="#a8bbe8" stroke="#fff" stroke-width="0.5"/>
<polyline points="1025.40,510.70 1039.20,510.70 1043.20,518.30" fill="none" stroke="#a8bbe8" stroke-width="1.2" />
<polyline points="1025.40,540.40 1031.00,540.00" fill="none" stroke="#eb9739" stroke-width="1.2" />
<polyline points="1025.40,569.20 1040.00,569.20 1042.40,564.30" fill="none" stroke="#f0d28e" stroke-width="1.2" />
<polyline points="1073.90,526.30 1080.40,523.10 1085.20,523.10" fill="none" stroke="#4a6f99" stroke-width="1.2" />
<polyline points="1065.80,562.70 1069.90,569.20 1085.20,569.20" fill="none" stroke="#6b50a8" stroke-width="1.2" />
<text x="1022.59" y="514.30" font-size="9.8" font-weight="400" fill="#6c6c70" text-anchor="end" textLength="36.28" lengthAdjust="spacingAndGlyphs" >*Deck Pe...</text>
<text x="1022.59" y="543.70" font-size="9.8" font-weight="400" fill="#6c6c70" text-anchor="end" textLength="35.48" lengthAdjust="spacingAndGlyphs" >**Rental...</text>
<text x="1022.59" y="572.50" font-size="9.8" font-weight="400" fill="#6c6c70" text-anchor="end" textLength="34.18" lengthAdjust="spacingAndGlyphs" >Short Te...</text>
<text x="1087.21" y="526.90" font-size="9.8" font-weight="400" fill="#6c6c70" text-anchor="start" textLength="37.18" lengthAdjust="spacingAndGlyphs" >**Busine...</text>
<text x="1087.21" y="572.50" font-size="9.8" font-weight="400" fill="#6c6c70" text-anchor="start" textLength="36.38" lengthAdjust="spacingAndGlyphs" >*Storage...</text>
<text x="1054.55" y="617.60" font-size="21.4" font-weight="400" fill="#1f1f22" text-anchor="middle" textLength="9.61" lengthAdjust="spacingAndGlyphs" stroke="#1f1f22" stroke-width="0.55">6</text>
<text x="1054.25" y="631.90" font-size="8.6" font-weight="400" fill="#3d3d3f" text-anchor="middle" textLength="67.69" lengthAdjust="spacingAndGlyphs" >Record Type in 2019-20</text>
<rect x="0.00" y="0.00" width="1176.00" height="3.00" fill="#c9cacd" />
<rect x="0.00" y="0.00" width="4.00" height="642.00" fill="#c6c7cb" />
<rect x="1173.00" y="0.00" width="3.00" height="642.00" fill="#c9cacd" />
<rect x="0.00" y="640.00" width="1176.00" height="2.00" fill="#6e6f73" />
</svg>
</body></html>
